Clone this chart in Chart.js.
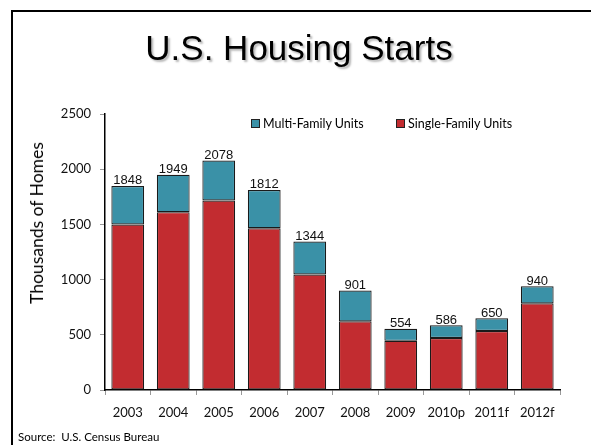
<!DOCTYPE html>
<html>
<head>
<meta charset="utf-8">
<script src="https://cdn.jsdelivr.net/npm/chart.js@4.4.1/dist/chart.umd.min.js"></script>
<style>
  html, body { margin:0; padding:0; background:#fff; }
  #wrap { position:relative; width:591px; height:445px; overflow:hidden; background:#fff; }
  #chart { position:absolute; left:0; top:0; }
  .frameL { position:absolute; left:11px; top:10px; width:2px; height:435px; background:#000; }
  .frameT { position:absolute; left:11px; top:10px; width:580px; height:2px; background:#000; }
  #title { position:absolute; left:0; width:598px; top:26px; text-align:center;
    font-family:"Liberation Sans", Arial, sans-serif; font-size:35px; color:#000;
    text-shadow:2px 2px 2px rgba(0,0,0,0.28); line-height:44px; white-space:nowrap; }
  #ytitle { position:absolute; left:37px; top:223px; transform:translate(-50%,-50%) rotate(-90deg);
    font-family:Lato, sans-serif; font-size:17.5px; color:#000; white-space:nowrap; line-height:20px; }
  #legend { position:absolute; left:0; top:0; font-family:Lato, sans-serif; font-size:12.5px; color:#000; }
  .li { position:absolute; white-space:nowrap; line-height:14px; }
  .sw { display:inline-block; width:7px; height:7px; border:1px solid #222; vertical-align:0px; margin-right:3px; }
  #source { position:absolute; left:18px; top:430px; font-family:Lato, sans-serif; font-size:11.5px; color:#000; white-space:nowrap; line-height:14px; }
</style>
</head>
<body>
<div id="wrap">
  <canvas id="chart" width="591" height="445"></canvas>
  <div class="frameL"></div>
  <div class="frameT"></div>
  <div id="title">U.S. Housing Starts</div>
  <div id="ytitle">Thousands of Homes</div>
  <div id="legend"></div>
  <div id="source">Source:&nbsp; U.S. Census Bureau</div>
</div>
<script>
const categories = ["2003","2004","2005","2006","2007","2008","2009","2010p","2011f","2012f"];
const singleFamily = [1499, 1611, 1716, 1465, 1046, 622, 445, 471, 535, 785];
const multiFamily  = [349, 338, 362, 347, 298, 279, 109, 115, 115, 155];
const yTicks = [0, 500, 1000, 1500, 2000, 2500];

const teal = "#3a91a7";
const red = "#c22c30";

const totalsPlugin = {
  id: "totals",
  afterDatasetsDraw(chart) {
    const ctx = chart.ctx;
    const topMeta = chart.getDatasetMeta(1);
    ctx.save();
    ctx.font = '13px "Liberation Sans", Arial, sans-serif';
    ctx.fillStyle = "#111";
    ctx.textAlign = "center";
    ctx.textBaseline = "alphabetic";
    topMeta.data.forEach((bar, i) => {
      const total = singleFamily[i] + multiFamily[i];
      ctx.fillText(String(total), bar.x, bar.y - 1.5);
    });
    ctx.restore();
  }
};

const chart = new Chart(document.getElementById("chart"), {
  type: "bar",
  data: {
    labels: categories,
    datasets: [
      { label: "Single-Family Units", data: singleFamily, backgroundColor: red,
        borderColor: "#1a1a1a", borderWidth: 1.2, borderSkipped: false },
      { label: "Multi-Family Units", data: multiFamily, backgroundColor: teal,
        borderColor: "#1a1a1a", borderWidth: 1.2, borderSkipped: false }
    ]
  },
  options: {
    responsive: false,
    animation: false,
    devicePixelRatio: 1,
    layout: { padding: { left: 0, right: 31, top: 114, bottom: 0 } },
    datasets: { bar: { categoryPercentage: 1, barPercentage: 0.72 } },
    plugins: {
      legend: { display: false },
      tooltip: { enabled: false },
      title: { display: false }
    },
    scales: {
      x: {
        stacked: true,
        offset: true,
        grid: { offset: true, drawOnChartArea: false, drawTicks: true, tickLength: 5, color: "#999" },
        border: { display: true, color: "#000", width: 1.5 },
        ticks: { font: { family: "Lato", size: 13 }, color: "#111", padding: 10, maxRotation: 0 },
        afterFit(scale) { scale.height = 55; }
      },
      y: {
        stacked: true,
        min: 0, max: 2500,
        afterBuildTicks(scale) { scale.ticks = yTicks.map(v => ({ value: v })); },
        grid: { drawOnChartArea: false, drawTicks: true, tickLength: 5, color: "#999" },
        border: { display: true, color: "#000", width: 1.5 },
        ticks: { font: { family: "Lato", size: 13 }, color: "#111", padding: 9,
                 callback: (v) => String(v) },
        afterFit(scale) { scale.width = 105; }
      }
    }
  },
  plugins: [totalsPlugin]
});

// HTML legend built from datasets (Multi first, as in reference)
const legend = document.getElementById("legend");
const legendPos = [{ left: 251, top: 117 }, { left: 396, top: 117 }];
[1, 0].forEach((di, k) => {
  const ds = chart.data.datasets[di];
  const item = document.createElement("div");
  item.className = "li";
  item.style.left = legendPos[k].left + "px";
  item.style.top = legendPos[k].top + "px";
  const sw = document.createElement("span");
  sw.className = "sw";
  sw.style.background = ds.backgroundColor;
  item.appendChild(sw);
  item.appendChild(document.createTextNode(ds.label));
  legend.appendChild(item);
});
</script>
</body>
</html>
